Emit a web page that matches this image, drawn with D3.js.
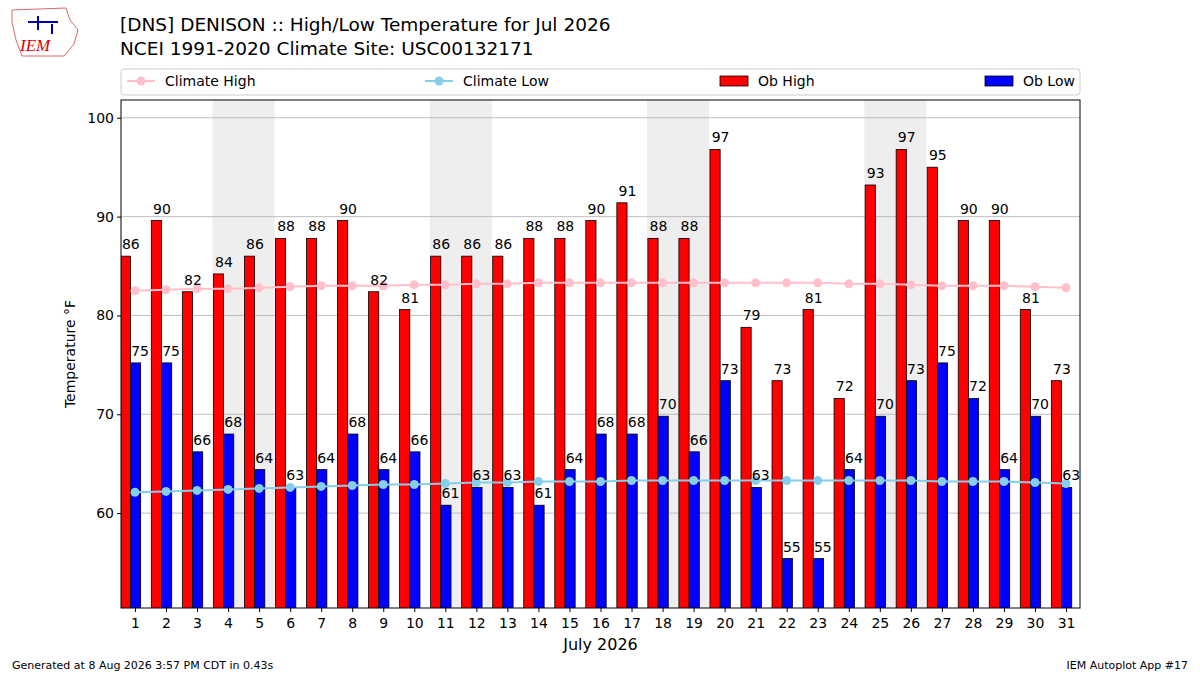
<!DOCTYPE html>
<html><head><meta charset="utf-8">
<script src="https://d3js.org/d3.v7.min.js"></script>
<style>body{margin:0;background:#fff;font-family:"DejaVu Sans",sans-serif}</style>
</head><body><svg id="c" width="1200" height="675"></svg>
<script>
// ---- data ----
const days = d3.range(1, 32);
const obHigh = [86,89.6,82.4,84.2,86,87.8,87.8,89.6,82.4,80.6,86,86,86,87.8,87.8,89.6,91.4,87.8,87.8,96.8,78.8,73.4,80.6,71.6,93.2,96.8,95,89.6,89.6,80.6,73.4];
const obLow  = [75.2,75.2,66.2,68,64.4,62.6,64.4,68,64.4,66.2,60.8,62.6,62.6,60.8,64.4,68,68,69.8,66.2,73.4,62.6,55.4,55.4,64.4,69.8,73.4,75.2,71.6,64.4,69.8,62.6];
const climHigh = [82.5,82.6,82.7,82.7,82.8,82.9,83.0,83.0,83.0,83.1,83.1,83.2,83.2,83.3,83.3,83.3,83.3,83.3,83.3,83.3,83.3,83.3,83.3,83.2,83.2,83.1,83.0,83.0,83.0,82.9,82.8];
const climLow  = [62.1,62.2,62.3,62.4,62.5,62.6,62.7,62.8,62.9,62.9,63.0,63.1,63.1,63.2,63.2,63.2,63.3,63.3,63.3,63.3,63.3,63.3,63.3,63.3,63.3,63.3,63.2,63.2,63.2,63.1,63.0];
const weekends = [[4,5],[11,12],[18,19],[25,26]];
const yTicks = [60,70,80,90,100];

const svg = d3.select('#c');
const L=121,R=1080,T=100,B=608;
const x = d3.scaleLinear().domain([0.55,31.45]).range([L,R]);
const y = d3.scaleLinear().domain([50.4,101.8]).range([B,T]);
const bw = 10.2, off = -4.5;

svg.selectAll('rect.we').data(weekends).enter().append('rect')
  .attr('x',d=>x(d[0]-0.5)).attr('width',d=>x(d[1]+0.5)-x(d[0]-0.5))
  .attr('y',T).attr('height',B-T).attr('fill','#eeeeee');
svg.selectAll('line.g').data(yTicks).enter().append('line')
  .attr('x1',L).attr('x2',R).attr('y1',d=>y(d)).attr('y2',d=>y(d)).attr('stroke','#b0b0b0').attr('stroke-width',0.8);

svg.append('clipPath').attr('id','pc').append('rect').attr('x',L).attr('y',T).attr('width',R-L).attr('height',B-T);
const g = svg.append('g').attr('clip-path','url(#pc)');
g.selectAll('rect.h').data(obHigh).enter().append('rect')
  .attr('x',(d,i)=>x(days[i])-bw+off).attr('width',bw).attr('y',d=>y(d)).attr('height',d=>B-y(d)+2)
  .attr('fill','red').attr('stroke','#000').attr('stroke-width',0.8);
g.selectAll('rect.l').data(obLow).enter().append('rect')
  .attr('x',(d,i)=>x(days[i])+off).attr('width',bw).attr('y',d=>y(d)).attr('height',d=>B-y(d)+2)
  .attr('fill','blue').attr('stroke','#000').attr('stroke-width',0.8);

function clim(vals,col){
  const line=d3.line().x((d,i)=>x(days[i])).y(d=>y(d));
  svg.append('path').datum(vals).attr('d',line).attr('fill','none').attr('stroke',col).attr('stroke-width',2);
  svg.selectAll(null).data(vals).enter().append('circle').attr('cx',(d,i)=>x(days[i])).attr('cy',d=>y(d)).attr('r',4.5).attr('fill',col);
}
clim(climHigh,'pink'); clim(climLow,'skyblue');

const lab=(vals,dx)=>svg.selectAll(null).data(vals).enter().append('text')
  .attr('x',(d,i)=>x(days[i])+dx).attr('y',d=>y(d)-7).attr('text-anchor','middle')
  .attr('font-size',14).text(d=>Math.round(d));
lab(obHigh,-bw/2+1); lab(obLow,bw/2);

svg.append('rect').attr('x',L).attr('y',T).attr('width',R-L).attr('height',B-T).attr('fill','none').attr('stroke','#000');

const xa=svg.append('g').attr('transform',`translate(0,${B})`).call(d3.axisBottom(x).tickValues(days).tickSize(4).tickFormat(d3.format('d')));
const ya=svg.append('g').attr('transform',`translate(${L},0)`).call(d3.axisLeft(y).tickValues(yTicks).tickSize(4));
[xa,ya].forEach(a=>{a.select('.domain').remove();a.selectAll('text').attr('font-size',14).attr('font-family','DejaVu Sans').attr('fill','#000');});
xa.selectAll('text').attr('dy','0.9em');
svg.append('text').attr('x',(L+R)/2).attr('y',650).attr('text-anchor','middle').attr('font-size',16).text('July 2026');
svg.append('text').attr('transform',`translate(75,${(T+B)/2}) rotate(-90)`).attr('text-anchor','middle').attr('font-size',14).text('Temperature °F');

svg.append('text').attr('x',120).attr('y',31).attr('font-size',18.5).text('[DNS] DENISON :: High/Low Temperature for Jul 2026');
svg.append('text').attr('x',120).attr('y',55).attr('font-size',18.5).text('NCEI 1991-2020 Climate Site: USC00132171');

svg.append('rect').attr('x',L).attr('y',69).attr('width',R-L).attr('height',26).attr('rx',3).attr('fill','#fff').attr('stroke','#ccc');
const lg=svg.append('g').attr('font-size',14);
[['Climate High','pink',127],['Climate Low','skyblue',425]].forEach(([t,c,lx])=>{
  lg.append('line').attr('x1',lx).attr('x2',lx+28).attr('y1',81).attr('y2',81).attr('stroke',c).attr('stroke-width',2);
  lg.append('circle').attr('cx',lx+14).attr('cy',81).attr('r',4.5).attr('fill',c);
  lg.append('text').attr('x',lx+38).attr('y',86).text(t);
});
[['Ob High','red',720],['Ob Low','blue',985]].forEach(([t,c,lx])=>{
  lg.append('rect').attr('x',lx).attr('y',76).attr('width',28).attr('height',10).attr('fill',c).attr('stroke','#000').attr('stroke-width',0.8);
  lg.append('text').attr('x',lx+38).attr('y',86).text(t);
});

const lo=svg.append('g');
lo.append('path').attr('d','M12,10 L66,8 L70,20 L78,30 L74,44 L64,56 L22,56 L16,40 L12,22 Z').attr('fill','none').attr('stroke','#d66').attr('stroke-width',1);
lo.append('text').attr('x',20).attr('y',51).attr('font-size',17).attr('font-style','italic').attr('font-family','Liberation Serif').attr('fill','#d00').text('IEM');
lo.append('path').attr('d','M28,22 L58,22 M38,16 L38,30 M52,24 L52,34').attr('stroke','#00a').attr('stroke-width',2);

svg.append('text').attr('x',12).attr('y',669).attr('font-size',11).text('Generated at 8 Aug 2026 3:57 PM CDT in 0.43s');
svg.append('text').attr('x',1188).attr('y',669).attr('font-size',11).attr('text-anchor','end').text('IEM Autoplot App #17');
</script></body></html>
